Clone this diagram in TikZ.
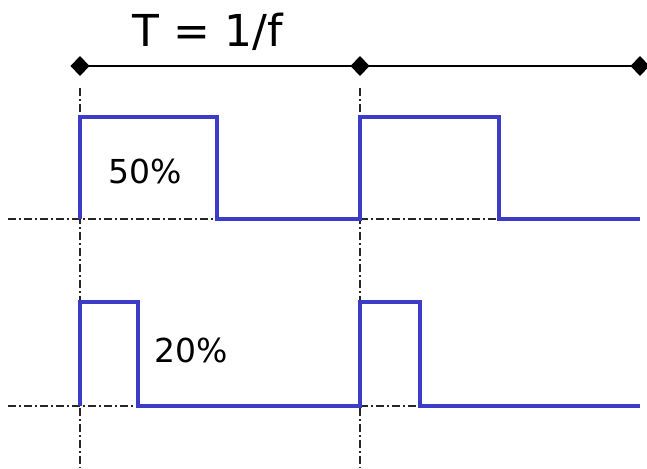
\documentclass[tikz,border=0pt]{standalone}
\usepackage{fontspec}
\setmainfont{DejaVu Sans}
\definecolor{wave}{RGB}{60,60,200}
\begin{document}
\begin{tikzpicture}[x=1pt,y=-1pt,
  wavestyle/.style={draw=wave,line width=3.2pt,line join=miter},
  axis/.style={draw=black!85,line width=1.1pt,dash pattern=on 8pt off 3pt on 2pt off 3pt},
  period/.style={draw=black,line width=2.4pt},
  tick/.style={fill=black},
  lbl/.style={inner sep=0pt,font=\fontsize{33}{38}\selectfont}]
\useasboundingbox (0,0) rectangle (647,468);
% period marker
\coordinate (d1) at (80,66);
\coordinate (d2) at (360,66);
\coordinate (d3) at (640,66);
\draw[period] (d1) -- (d3);
\foreach \d in {d1,d2,d3}
  \fill[tick] (\d) +(-9.5,0) -- +(0,-10) -- +(9.5,0) -- +(0,10) -- cycle;
\node[lbl,font=\fontsize{44}{48}\selectfont] (title) at (208,32) {T = 1/f};
% dash-dot guides
\coordinate (v1t) at (80,88); \coordinate (v1b) at (80,468);
\coordinate (v2t) at (360,88); \coordinate (v2b) at (360,468);
\draw[axis] (v1t) -- (v1b);
\draw[axis] (v2t) -- (v2b);
\coordinate (h1l) at (8,219); \coordinate (h1r) at (640,219);
\coordinate (h2l) at (8,406); \coordinate (h2r) at (640,406);
\draw[axis] (h1l) -- (h1r);
\draw[axis] (h2l) -- (h2r);
% 50% wave
\draw[wavestyle] (80,219) -- (80,117) -- (217,117) -- (217,219) -- (360,219)
  -- (360,117) -- (499,117) -- (499,219) -- (640,219);
\node[lbl] (p50) at (145,171) {50\%};
% 20% wave
\draw[wavestyle] (80,406) -- (80,302) -- (138,302) -- (138,406) -- (360,406)
  -- (360,302) -- (420,302) -- (420,406) -- (640,406);
\node[lbl] (p20) at (191,350) {20\%};
\end{tikzpicture}
\end{document}
